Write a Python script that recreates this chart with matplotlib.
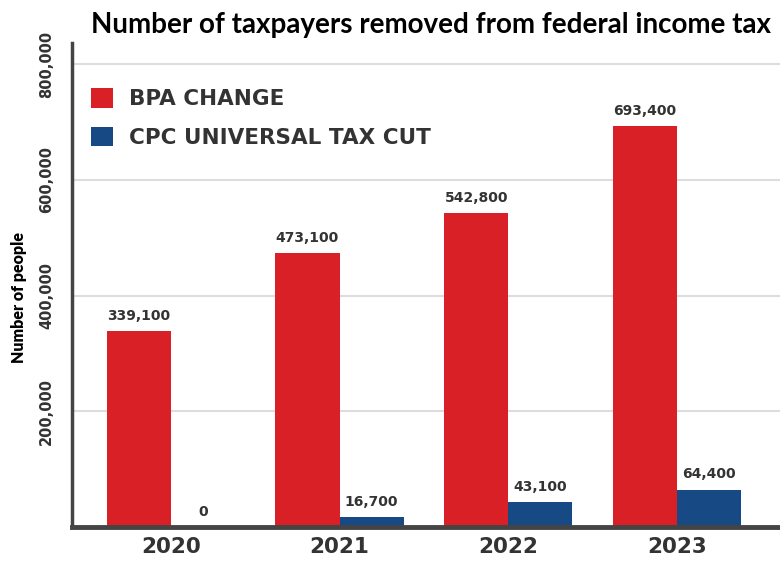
import numpy as np
import matplotlib.pyplot as plt

years = ['2020', '2021', '2022', '2023']
bpa_change = [339100, 473100, 542800, 693400]
cpc_cut = [0, 16700, 43100, 64400]
series_names = ['BPA CHANGE', 'CPC UNIVERSAL TAX CUT']

red = '#d92027'
blue = '#174a85'
dark = '#333333'
label_font = ['DejaVu Sans']

plt.rcParams['font.family'] = ['Lato', 'DejaVu Sans']

fig = plt.figure(figsize=(7.8, 5.61), dpi=100)
ax = fig.add_axes([0.0923, 0.0606, 0.9077, 0.862])

x = np.arange(len(years))
w = 0.38
b1 = ax.bar(x - w / 2, bpa_change, w, color=red, label=series_names[0], zorder=3)
b2 = ax.bar(x + w / 2, cpc_cut, w, color=blue, label=series_names[1], zorder=3)

for bars, vals in ((b1, bpa_change), (b2, cpc_cut)):
    for rect, v in zip(bars, vals):
        ax.annotate(f'{v:,}', (rect.get_x() + rect.get_width() / 2, v),
                    xytext=(0, 6), textcoords='offset points', ha='center', va='bottom',
                    fontsize=10, fontweight='bold', family=label_font, color=dark)

ax.set_xlim(-0.585, 3.61)
ax.set_ylim(0, 836000)
ax.set_yticks([200000, 400000, 600000, 800000])
ax.set_yticklabels([f'{t:,}' for t in [200000, 400000, 600000, 800000]],
                   rotation=90, va='center', fontsize=10.5, fontweight='bold',
                   family=label_font, color=dark)
ax.set_xticks(x)
ax.set_xticklabels(years, fontsize=15.5, fontweight='bold', family=label_font, color=dark)
ax.tick_params(axis='both', length=0)
ax.tick_params(axis='y', pad=13)
ax.tick_params(axis='x', pad=7)

ax.grid(axis='y', color='#dddddd', linewidth=1.5, zorder=0)
for s in ('top', 'right'):
    ax.spines[s].set_visible(False)
ax.spines['left'].set_color('#444444')
ax.spines['left'].set_linewidth(2.5)
ax.spines['bottom'].set_color('#444444')
ax.spines['bottom'].set_linewidth(3.5)
ax.spines['bottom'].set_zorder(4)

ax.set_ylabel('Number of people', fontsize=11.5, fontweight='heavy', color='black')
ax.yaxis.set_label_coords(-0.063, 0.475)

leg = ax.legend(loc='upper left', bbox_to_anchor=(0.0, 0.947), frameon=False,
                prop={'size': 15.5, 'weight': 'bold', 'family': label_font},
                handlelength=1.0, handleheight=1.0,
                labelspacing=0.8, handletextpad=0.75)
for t in leg.get_texts():
    t.set_color(dark)

fig.suptitle('Number of taxpayers removed from federal income tax',
             x=0.553, y=0.978, fontsize=20, fontweight='bold', color='black')

fig.savefig('out.png', dpi=100)
